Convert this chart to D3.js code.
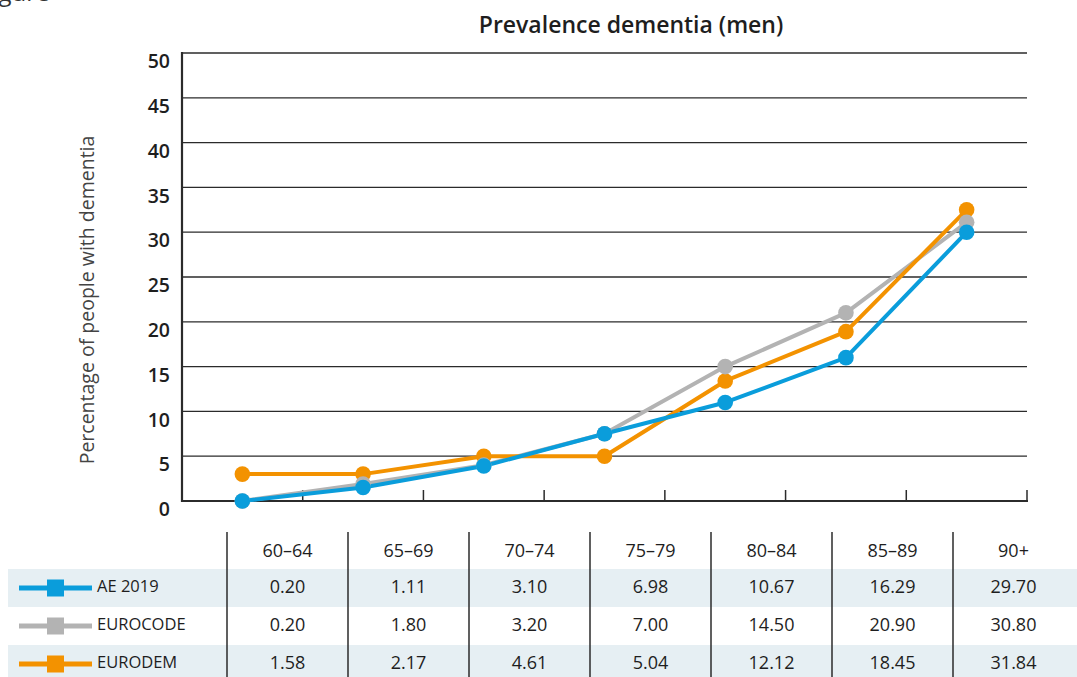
<!DOCTYPE html>
<html>
<head>
<meta charset="utf-8">
<script src="https://cdn.jsdelivr.net/npm/d3@7"></script>
<style>
  html, body { margin: 0; padding: 0; background: #fff; }
  svg { display: block; font-family: "Open Sans", "Noto Sans", sans-serif; }
</style>
</head>
<body>
<svg id="chart" width="1077" height="677"></svg>
<script>
// ---- data ----
const categories = ["60–64", "65–69", "70–74", "75–79", "80–84", "85–89", "90+"];
const seriesNames = ["AE 2019", "EUROCODE", "EURODEM"];
// values as plotted in the chart
const plotAE2019   = [0.0, 1.5, 3.9, 7.5, 11.0, 16.0, 30.0];
const plotEUROCODE = [0.0, 1.9, 4.0, 7.5, 15.0, 21.0, 31.1];
const plotEURODEM  = [3.0, 3.0, 5.0, 5.0, 13.4, 18.9, 32.5];
// values printed in the table
const tableAE2019   = ["0.20", "1.11", "3.10", "6.98", "10.67", "16.29", "29.70"];
const tableEUROCODE = ["0.20", "1.80", "3.20", "7.00", "14.50", "20.90", "30.80"];
const tableEURODEM  = ["1.58", "2.17", "4.61", "5.04", "12.12", "18.45", "31.84"];
const yTicks = [0, 5, 10, 15, 20, 25, 30, 35, 40, 45, 50];

const colors = { "AE 2019": "#0a9ddb", "EUROCODE": "#b3b3b3", "EURODEM": "#f39200" };

const svg = d3.select("#chart");

// cut-off figure caption at the top-left (as in the reference)
svg.append("text").attr("x", -20).attr("y", 1).attr("font-size", 24).attr("fill", "#333").text("Figure");

// title
svg.append("text").attr("x", 631).attr("y", 33).attr("text-anchor", "middle")
  .attr("font-size", 23).attr("font-weight", 600).attr("fill", "#1e1e1e")
  .text("Prevalence dementia (men)");

const x = d3.scaleBand().domain(categories).range([182, 1027]).padding(0);
const y = d3.scaleLinear().domain([0, 50]).range([501, 53]);

// gridlines
svg.append("g").selectAll("line").data(yTicks.filter(d => d > 0)).join("line")
  .attr("x1", 182).attr("x2", 1027)
  .attr("y1", d => y(d)).attr("y2", d => y(d))
  .attr("stroke", "#2b2b2b").attr("stroke-width", 1.3);

// y tick labels
svg.append("g").selectAll("text").data(yTicks).join("text")
  .attr("x", 170).attr("y", d => y(d) + 10)
  .attr("text-anchor", "end").attr("dominant-baseline", "middle")
  .attr("font-size", 19.5).attr("font-weight", 600).attr("fill", "#1e1e1e")
  .text(d => d);

// y axis title
svg.append("text").attr("transform", "translate(94,300) rotate(-90)")
  .attr("text-anchor", "middle").attr("font-size", 19.5).attr("fill", "#444")
  .text("Percentage of people with dementia");

// axes
svg.append("line").attr("x1", 182).attr("x2", 182).attr("y1", 52).attr("y2", 502)
  .attr("stroke", "#2b2b2b").attr("stroke-width", 2.2);
svg.append("line").attr("x1", 181).attr("x2", 1028).attr("y1", 501).attr("y2", 501)
  .attr("stroke", "#2b2b2b").attr("stroke-width", 2.2);
// x ticks (band boundaries)
const tickPos = categories.map(c => x(c) + x.bandwidth());
svg.append("g").selectAll("line").data(tickPos).join("line")
  .attr("x1", d => d).attr("x2", d => d).attr("y1", 501).attr("y2", 490)
  .attr("stroke", "#2b2b2b").attr("stroke-width", 1.5);

// series
const plotSeries = [
  { name: "EUROCODE", values: plotEUROCODE },
  { name: "EURODEM", values: plotEURODEM },
  { name: "AE 2019", values: plotAE2019 }
];
const line = d3.line().x((d, i) => x(categories[i]) + x.bandwidth() / 2).y(d => y(d));
svg.append("g").selectAll("path").data(plotSeries).join("path")
  .attr("d", s => line(s.values)).attr("fill", "none")
  .attr("stroke", s => colors[s.name]).attr("stroke-width", 4).attr("stroke-linejoin", "round");
const dotOrder = [plotSeries[1], plotSeries[0], plotSeries[2]];
dotOrder.forEach(s => {
  svg.append("g").selectAll("circle").data(s.values).join("circle")
    .attr("cx", (d, i) => x(categories[i]) + x.bandwidth() / 2)
    .attr("cy", d => y(d)).attr("r", 7.8).attr("fill", colors[s.name]);
});

// ---- table ----
const tx = d3.scaleBand().domain(categories).range([227, 1074]);
const rowTop = 569, rowH = 38;
const tableRows = [
  { name: "AE 2019", vals: tableAE2019, bg: true },
  { name: "EUROCODE", vals: tableEUROCODE, bg: false },
  { name: "EURODEM", vals: tableEURODEM, bg: true }
];
tableRows.forEach((r, i) => {
  if (r.bg) svg.append("rect").attr("x", 8).attr("y", rowTop + i * rowH).attr("width", 1069).attr("height", rowH).attr("fill", "#e6eff3");
});
// header labels
svg.append("g").selectAll("text").data(categories).join("text")
  .attr("x", d => tx(d) + tx.bandwidth() / 2).attr("y", 552)
  .attr("text-anchor", "middle").attr("dominant-baseline", "middle")
  .attr("font-size", 18).attr("fill", "#1e1e1e").text(d => d);
tableRows.forEach((r, i) => {
  const cy = rowTop + i * rowH + rowH / 2;
  const g = svg.append("g");
  g.selectAll("text").data(r.vals).join("text")
    .attr("x", (d, j) => tx(categories[j]) + tx.bandwidth() / 2).attr("y", cy)
    .attr("text-anchor", "middle").attr("dominant-baseline", "middle")
    .attr("font-size", 18).attr("fill", "#1e1e1e").text(d => d);
  // legend key
  g.append("line").attr("x1", 19).attr("x2", 92).attr("y1", cy).attr("y2", cy)
    .attr("stroke", colors[r.name]).attr("stroke-width", 5);
  g.append("rect").attr("x", 47).attr("y", cy - 8.5).attr("width", 17).attr("height", 17).attr("fill", colors[r.name]);
  g.append("text").attr("x", 97).attr("y", cy).attr("dominant-baseline", "middle")
    .attr("font-size", 16.5).attr("fill", "#1e1e1e").text(r.name);
});
// column separators
svg.append("g").selectAll("line").data(categories).join("line")
  .attr("x1", d => tx(d)).attr("x2", d => tx(d)).attr("y1", 532).attr("y2", 677)
  .attr("stroke", "#2b2b2b").attr("stroke-width", 1.5);
</script>
</body>
</html>
